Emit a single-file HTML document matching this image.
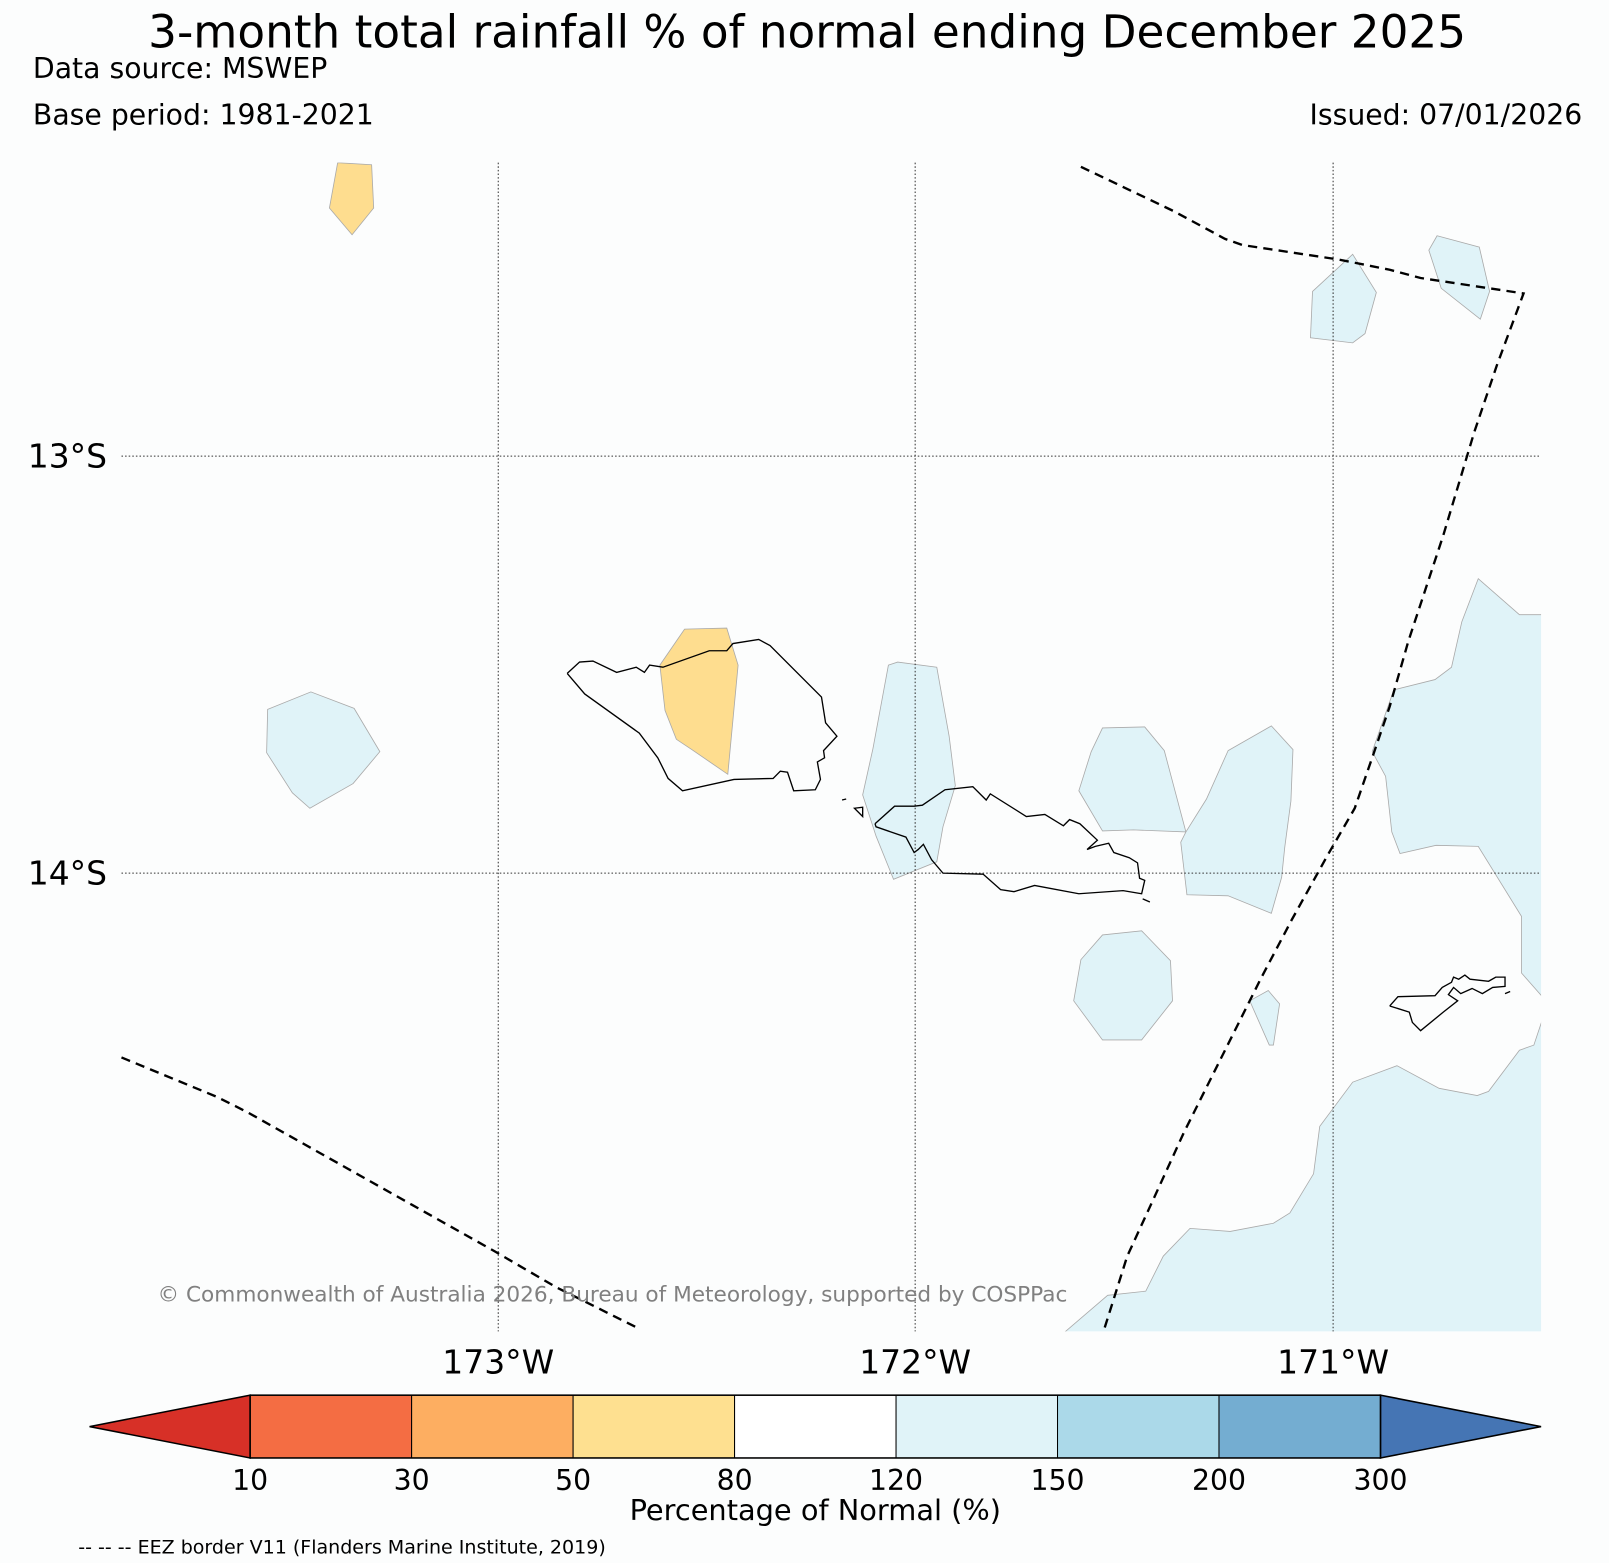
<!DOCTYPE html>
<html><head><meta charset="utf-8">
<style>
html,body{margin:0;padding:0;background:#fcfdfd;}
svg{display:block;font-family:"DejaVu Sans","Liberation Sans",sans-serif;}
</style></head>
<body>
<svg id="chart" width="1609" height="1563" viewBox="0 0 1563 1518" preserveAspectRatio="none" xmlns="http://www.w3.org/2000/svg">
<rect x="0" y="0" width="1563" height="1518" fill="#fcfdfd"/>
<text x="784" y="46" font-size="44" text-anchor="middle" fill="#000">3-month total rainfall % of normal ending December 2025</text>
<text x="32" y="76" font-size="27.5" fill="#000">Data source: MSWEP</text>
<text x="32" y="121" font-size="27.5" fill="#000">Base period: 1981-2021</text>
<text x="1537" y="121" font-size="27.5" text-anchor="end" fill="#000">Issued: 07/01/2026</text>

<g id="map">
<defs><clipPath id="mc"><rect x="118" y="158" width="1379" height="1135"/></clipPath></defs>
<g clip-path="url(#mc)" stroke="#aaa" stroke-width="0.8">
<polygon fill="#fedd8f" points="328,158 361,160 363,202 342,228 320,202"/>
<polygon fill="#fedd8f" points="665,611 706,610 717,646 707,752 672,728 657,718 646,690 641,646"/>
<polygon fill="#e0f3f8" points="260,689 302,672 344,688 369,730 343,761 301,785 284,770 259,731"/>
<polygon fill="#e0f3f8" points="863,646 872,643 910,648 922,715 928,763 916,803 910,837 868,854 851,812 838,772 848,727"/>
<polygon fill="#e0f3f8" points="1071,707 1112,706 1131,729 1152,808 1101,806 1071,807 1048,768 1060,730"/>
<polygon fill="#e0f3f8" points="1193,729 1235,705 1256,728 1254,778 1248,823 1245,852 1235,887 1193,870 1153,869 1147,818 1152,808 1172,776"/>
<polygon fill="#e0f3f8" points="1071,908 1109,904 1137,933 1139,972 1109,1010 1071,1010 1043,972 1050,932"/>
<polygon fill="#e0f3f8" points="1214,972 1232,962 1243,975 1237,1015 1233,1015"/>
<polygon fill="#e0f3f8" points="1275,283 1314,247 1337,284 1326,324 1314,333 1273,328"/>
<polygon fill="#e0f3f8" points="1396,229 1437,240 1447,283 1438,310 1400,280 1388,243"/>
<polygon fill="#e0f3f8" points="1436,562 1476,597 1500,597 1500,970 1478,945 1478,890 1436,822 1395,821 1360,829 1352,808 1346,754 1333,730 1354,670 1394,660 1410,648 1420,604"/>
<polygon fill="#e0f3f8" points="1500,985 1490,1015 1476,1020 1446,1060 1435,1064 1398,1057 1357,1035 1314,1051 1282,1094 1276,1140 1253,1178 1237,1188 1195,1196 1156,1193 1130,1220 1113,1254 1076,1258 1027,1300 1500,1300"/>
</g>
<g stroke="#333" stroke-width="1" stroke-dasharray="1.5,2">
<line x1="484" y1="158" x2="484" y2="1293"/>
<line x1="889" y1="158" x2="889" y2="1293"/>
<line x1="1295" y1="158" x2="1295" y2="1293"/>
<line x1="118" y1="443" x2="1497" y2="443"/>
<line x1="118" y1="848" x2="1497" y2="848"/>
</g>
<g fill="none" stroke="#000" stroke-width="1.3">
<polyline points="551,654 563,643 576,642 599,653 618,648 626,653 631,646 644,648 689,632 706,632 712,625 737,621 748,627 798,677 802,702 813,715 800,729 801,736 794,740 797,757 792,767 771,768 765,750 758,749 751,756 713,757 663,768 649,756 639,736 621,712 568,674 551,654"/>
<polyline points="850,800 869,783 888,783 896,782 918,767 945,764 958,777 962,771 997,793 1015,791 1033,802 1039,796 1049,800 1066,816 1056,825 1064,822 1077,819 1082,828 1097,833 1105,838 1107,853 1112,855 1109,868 1091,865 1048,868 1005,860 985,866 972,864 955,849 916,848 905,835 897,820 892,825 888,828 880,813 851,803 850,800"/>
<polygon points="830,785 838,784 838,793"/>
<line x1="818" y1="777" x2="822" y2="776"/>
<line x1="1110" y1="873" x2="1117" y2="876"/>
<polyline points="1350,977 1358,968 1394,967 1401,959 1410,954 1412,949 1417,951 1423,947 1428,951 1446,953 1453,949 1462,949 1462,958 1450,959 1440,965 1430,960 1419,965 1412,959 1407,966 1416,972 1402,983 1380,1001 1372,993 1369,983 1350,977"/>
<line x1="1462" y1="965" x2="1467" y2="963"/>
</g>
<g fill="none" stroke="#000" stroke-width="2.3" stroke-dasharray="9,6">
<polyline points="1050,162 1140,205 1190,232 1207,238 1300,252 1350,262 1380,270 1480,285 1454,355 1432,420 1402,520 1368,623 1350,686 1335,730 1316,785 1290,830 1255,893 1225,950 1185,1030 1150,1100 1118,1170 1095,1220 1072,1293"/>
<polyline points="118,1027 210,1065 240,1080 320,1125 400,1170 480,1215 540,1250 620,1290"/>
</g>
<text x="153" y="1264" font-size="21" fill="#808080">© Commonwealth of Australia 2026, Bureau of Meteorology, supported by COSPPac</text>
<text x="104" y="454" font-size="32" text-anchor="end">13°S</text>
<text x="104" y="859" font-size="32" text-anchor="end">14°S</text>
<text x="484" y="1334" font-size="32" text-anchor="middle">173°W</text>
<text x="889" y="1334" font-size="32" text-anchor="middle">172°W</text>
<text x="1295" y="1334" font-size="32" text-anchor="middle">171°W</text>
</g>

<g id="colorbar"></g>
<text x="792" y="1476" font-size="28" text-anchor="middle">Percentage of Normal (%)</text>
<text x="76" y="1509" font-size="18.5">-- -- -- EEZ border V11 (Flanders Marine Institute, 2019)</text>
</svg>
<script>
const tickLabels = ["10","30","50","80","120","150","200","300"];
const binColors = ["#f46d43","#fdae61","#fee090","#ffffff","#e0f3f8","#abd9e9","#74add1"];
const underColor = "#d73027";
const overColor = "#4575b4";

const NS = "http://www.w3.org/2000/svg";
const cb = document.getElementById("colorbar");
const x0 = 243, x1 = 1341, yTop = 1355, yBot = 1416, tipL = 87, tipR = 1497;
const yMid = (yTop + yBot) / 2;
const step = (x1 - x0) / binColors.length;
function bx(i){ return x0 + i * step; }

const under = document.createElementNS(NS, "polygon");
under.setAttribute("points", `${tipL},${yMid} ${x0},${yTop} ${x0},${yBot}`);
under.setAttribute("fill", underColor); under.setAttribute("stroke", "#000"); under.setAttribute("stroke-width", "1.5");


cb.appendChild(under);

const over = document.createElementNS(NS, "polygon");
over.setAttribute("points", `${tipR},${yMid} ${x1},${yTop} ${x1},${yBot}`);
over.setAttribute("fill", overColor); over.setAttribute("stroke", "#000"); over.setAttribute("stroke-width", "1.5");


cb.appendChild(over);

binColors.forEach((c, i) => {
  const r = document.createElementNS(NS, "rect");
  r.setAttribute("x", bx(i)); r.setAttribute("y", yTop);
  r.setAttribute("width", step); r.setAttribute("height", yBot - yTop);
  r.setAttribute("fill", c); r.setAttribute("stroke", "#000"); r.setAttribute("stroke-width", "1");
  
  
  cb.appendChild(r);
});
const outline = document.createElementNS(NS, "rect");
outline.setAttribute("x", x0); outline.setAttribute("y", yTop);
outline.setAttribute("width", x1 - x0); outline.setAttribute("height", yBot - yTop);
outline.setAttribute("fill", "none"); outline.setAttribute("stroke", "#000"); outline.setAttribute("stroke-width", "1.5");


cb.appendChild(outline);

tickLabels.forEach((t, i) => {
  const tx = document.createElementNS(NS, "text");
  tx.setAttribute("x", bx(i)); tx.setAttribute("y", 1447);
  tx.setAttribute("font-size", "27.5"); tx.setAttribute("text-anchor", "middle");
  tx.textContent = t;
  
  
  cb.appendChild(tx);
});
</script>
</body></html>
